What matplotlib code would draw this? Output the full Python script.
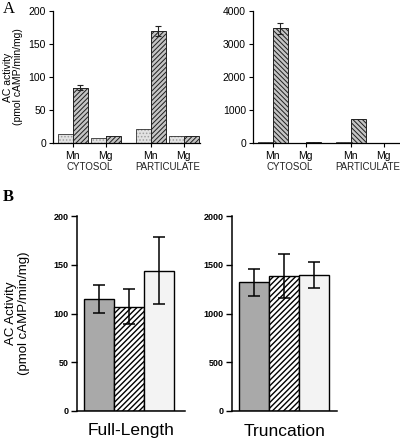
import matplotlib.pyplot as plt
import numpy as np

plt.rcParams['font.family'] = ['Liberation Sans', 'DejaVu Sans']
plt.rcParams['hatch.linewidth'] = 0.7

# panel A: adenylyl cyclase activity, light bars / dark bars per condition
a_conds = ['Mn', 'Mg', 'Mn', 'Mg']
a_fracs = ['CYTOSOL', 'PARTICULATE']
a_left_light = [13, 8, 21, 10]
a_left_dark = [84, 11, 170, 10]
a_left_dark_err = [4, 0, 8, 0]
a_right_light = [20, 5, 20, 8]
a_right_dark = [3480, 30, 730, 10]
a_right_dark_err = [170, 0, 0, 0]

# panel B
b_groups = ['Full-Length', 'Truncation']
b_full = [115, 107, 144]
b_full_err = [14.5, 18, 34.5]
b_trunc = [1320, 1385, 1395]
b_trunc_err = [137, 222, 135]

W, H = 400, 446
fig = plt.figure(figsize=(W / 100, H / 100), dpi=100)


def px_axes(x0, y0, x1, y1):
    return fig.add_axes([x0 / W, 1 - y1 / H, (x1 - x0) / W, (y1 - y0) / H])


def style(ax, fs):
    for s in ['top', 'right']:
        ax.spines[s].set_visible(False)
    for s in ['left', 'bottom']:
        ax.spines[s].set_linewidth(0.9)
    ax.tick_params(axis='y', length=3, width=0.8, labelsize=fs, pad=2)


xa = np.array([0, 1, 2.36, 3.36])
bw = 0.45


def panel_a(ax, light, dark, err, ymax, hatch):
    ax.bar(xa - bw / 2, light, bw, color='#e2e2e2', hatch='.....',
           edgecolor='#a0a0a0', linewidth=0)
    ax.bar(xa - bw / 2, light, bw, fill=False, edgecolor='#333333', linewidth=0.6)
    ax.bar(xa + bw / 2, dark, bw, color='#c4c4c4', hatch=hatch,
           edgecolor='#1e1e1e', linewidth=0)
    ax.bar(xa + bw / 2, dark, bw, fill=False, edgecolor='#222222', linewidth=0.7)
    for x, v, e in zip(xa + bw / 2, dark, err):
        if e > 0:
            ax.errorbar(x, v, yerr=e, color='#222222', capsize=2.5, lw=0.8,
                        capthick=0.8)
    ax.set_ylim(0, ymax)
    ax.set_xlim(-0.6, 3.85)
    ax.set_xticks(xa)
    ax.set_xticklabels(a_conds, fontsize=7.5)
    ax.tick_params(axis='x', length=3, width=0.8, pad=3)
    style(ax, 7.5)
    for i, f in enumerate(a_fracs):
        ax.text((xa[2 * i] + xa[2 * i + 1]) / 2, -0.18 * ymax, f,
                ha='center', va='center', fontsize=7, color='#222222')


ax1 = px_axes(53, 11, 200, 143)
panel_a(ax1, a_left_light, a_left_dark, a_left_dark_err, 200, '///////')
ax1.set_yticks([0, 50, 100, 150, 200])
ax1.set_ylabel('AC activity\n(pmol cAMP/min/mg)', fontsize=7.5, labelpad=4,
               linespacing=1.0)

ax2 = px_axes(253, 11, 400, 143)
panel_a(ax2, a_right_light, a_right_dark, a_right_dark_err, 4000,
        '\\\\\\\\\\\\\\')
ax2.set_yticks([0, 1000, 2000, 3000, 4000])

xb = np.arange(3)
b_colors = ['#a9a9a9', 'white', '#f3f3f3']
b_hatches = [None, '//////', None]


def panel_b(ax, vals, errs, ymax, xr):
    for x, v, c, h in zip(xb, vals, b_colors, b_hatches):
        ax.bar(x, v, 1.0, color=c, hatch=h, edgecolor='black', linewidth=1.0)
    ax.errorbar(xb, vals, yerr=errs, fmt='none', ecolor='black', capsize=4,
                lw=1.1, capthick=1.1)
    ax.set_ylim(0, ymax)
    ax.set_xlim(-0.72, xr)
    ax.set_xticks([])
    style(ax, 6.5)
    ax.spines['left'].set_linewidth(1.1)
    ax.spines['bottom'].set_linewidth(1.1)
    ax.tick_params(axis='y', length=4, width=1.0)
    for t in ax.get_yticklabels():
        t.set_fontweight('bold')


ax3 = px_axes(77, 216, 185, 411)
plt.rcParams['hatch.linewidth'] = 1.0
panel_b(ax3, b_full, b_full_err, 200, 2.88)
ax3.set_yticks([0, 50, 100, 150, 200])
ax3.set_ylabel('AC Activity\n(pmol cAMP/min/mg)', fontsize=9.5, labelpad=17,
               linespacing=1.05)
ax3.set_xlabel(b_groups[0], fontsize=12.5, labelpad=9)

ax4 = px_axes(232, 216, 337, 411)
panel_b(ax4, b_trunc, b_trunc_err, 2000, 2.78)
ax4.set_yticks([0, 500, 1000, 1500, 2000])
ax4.set_xlabel(b_groups[1], fontsize=12.5, labelpad=9)

fig.text(3 / W, 1 - 9 / H, 'A', fontsize=12, family='Liberation Serif',
         va='center', ha='left')
fig.text(3 / W, 1 - 197 / H, 'B', fontsize=12, family='Liberation Serif',
         va='center', ha='left', fontweight='bold')

fig.savefig('out.png', dpi=100)
